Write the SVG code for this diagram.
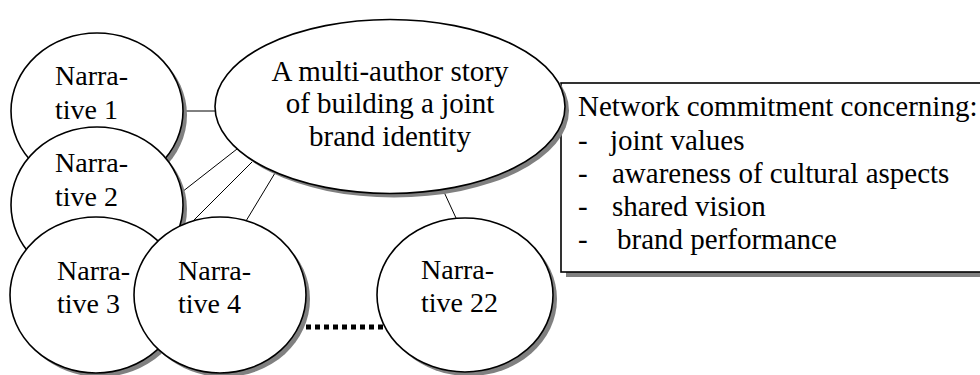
<svg xmlns="http://www.w3.org/2000/svg" width="980" height="375" viewBox="0 0 980 375">
  <style>
    .shadow { fill: #808080; stroke: none; }
    .node { fill: #ffffff; stroke: #000000; stroke-width: 1.6; }
    .label { font-family: "Liberation Serif", "Times New Roman", serif; font-size: 28px; fill: #000000; }
    .big { font-size: 29px; }
    .link { stroke: #000000; stroke-width: 1; fill: none; }
    .dots { stroke: #000000; stroke-width: 5; stroke-dasharray: 5 4; fill: none; }
  </style>
  <rect x="0" y="0" width="980" height="375" fill="#ffffff"/>

  <!-- connectors between the story and the narratives -->
  <g id="connectors">
    <line class="link" x1="183" y1="111" x2="217" y2="111"/>
    <line class="link" x1="237" y1="149" x2="182" y2="192"/>
    <line class="link" x1="252" y1="162" x2="192" y2="222"/>
    <line class="link" x1="275" y1="173" x2="246" y2="221"/>
    <line class="link" x1="444" y1="192" x2="456" y2="218"/>
    <line class="dots" x1="306" y1="327" x2="386" y2="327"/>
  </g>

  <g id="narrative1">
    <ellipse class="shadow" cx="101" cy="115" rx="86" ry="78"/>
    <ellipse class="node" cx="97" cy="111" rx="86" ry="78"/>
    <text class="label" x="55" y="85">Narra-</text>
    <text class="label" x="55" y="119">tive 1</text>
  </g>

  <g id="narrative2">
    <ellipse class="shadow" cx="101" cy="209" rx="86" ry="78"/>
    <ellipse class="node" cx="97" cy="205" rx="86" ry="78"/>
    <text class="label" x="55" y="172">Narra-</text>
    <text class="label" x="55" y="206">tive 2</text>
  </g>

  <g id="narrative3">
    <ellipse class="shadow" cx="100" cy="299" rx="86" ry="78"/>
    <ellipse class="node" cx="96" cy="295" rx="86" ry="78"/>
    <text class="label" x="57" y="280">Narra-</text>
    <text class="label" x="57" y="313">tive 3</text>
  </g>

  <g id="narrative4">
    <ellipse class="shadow" cx="224" cy="299" rx="86" ry="78"/>
    <ellipse class="node" cx="220" cy="295" rx="86" ry="78"/>
    <text class="label" x="178" y="280">Narra-</text>
    <text class="label" x="178" y="313">tive 4</text>
  </g>

  <g id="narrative22">
    <ellipse class="shadow" cx="469" cy="299" rx="88" ry="77"/>
    <ellipse class="node" cx="465" cy="295" rx="88" ry="77"/>
    <text class="label" x="421" y="279">Narra-</text>
    <text class="label" x="421" y="312">tive 22</text>
  </g>

  <g id="commitment">
    <rect class="shadow" x="566" y="88" width="430" height="189"/>
    <rect class="node" x="561" y="83" width="430" height="189"/>
    <text class="label big" x="578" y="116">Network commitment concerning:</text>
    <text class="label big" x="578" y="150">-</text>
    <text class="label big" x="610" y="150">joint values</text>
    <text class="label big" x="578" y="183">-</text>
    <text class="label big" x="612" y="183">awareness of cultural aspects</text>
    <text class="label big" x="578" y="216">-</text>
    <text class="label big" x="612" y="216">shared vision</text>
    <text class="label big" x="578" y="249">-</text>
    <text class="label big" x="617" y="249">brand performance</text>
  </g>

  <g id="story">
    <ellipse class="shadow" cx="394" cy="110.5" rx="175" ry="87"/>
    <ellipse class="node" cx="390" cy="106.5" rx="175" ry="87"/>
    <text class="label big" x="390" y="81" text-anchor="middle">A multi-author story</text>
    <text class="label big" x="390" y="113" text-anchor="middle">of building a joint</text>
    <text class="label big" x="390" y="146" text-anchor="middle">brand identity</text>
  </g>
</svg>
